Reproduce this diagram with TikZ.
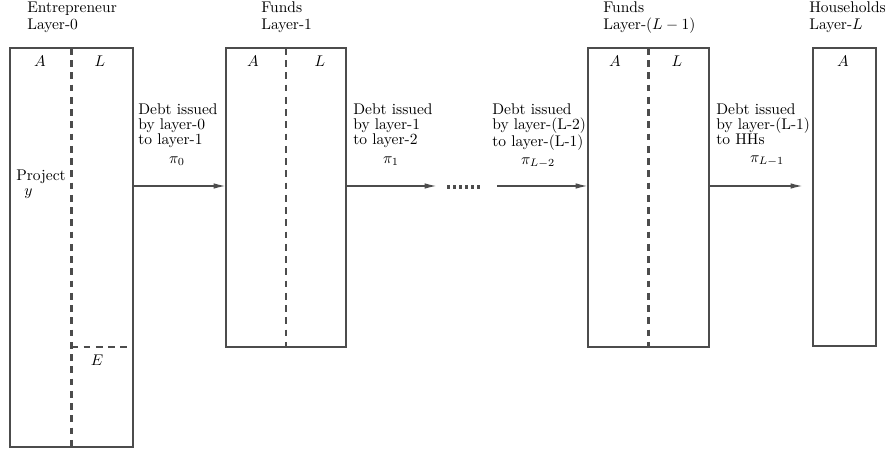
\documentclass[tikz,border=0pt]{standalone}
\usetikzlibrary{arrows.meta}
\definecolor{ln}{gray}{0.3}
\def\pxu{0.645pt}
\begin{document}
\begin{tikzpicture}[x=0.645pt,y=-0.645pt,
  box/.style={draw=ln, line width=1pt, anchor=north west, inner sep=0pt, outer sep=0pt},
  divider/.style={draw=ln, line width=1.4pt, dash pattern=on 4.3pt off 3.6pt},
  flow/.style={draw=ln, line width=1pt, -{Latex[length=8pt,width=3.6pt]}},
  lbl/.style={inner sep=0pt, align=left, anchor=north west, font=\fontsize{10}{9.7}\selectfont},
  txt/.style={inner sep=0pt, anchor=base west},
  sym/.style={inner sep=0pt},
  ]
\useasboundingbox (0,0) rectangle (888,452);
% balance sheets
\node[box, minimum width=123*\pxu, minimum height=399*\pxu] (b0) at (10,48) {};
\node[box, minimum width=120*\pxu, minimum height=299*\pxu] (b1) at (226,48) {};
\node[box, minimum width=121*\pxu, minimum height=299*\pxu] (b2) at (588,48) {};
\node[box, minimum width=63*\pxu, minimum height=298*\pxu] (b3) at (813,48) {};
% dividers
\draw[divider] (b0.north) -- (b0.south);
\draw[divider] (b1.north) -- (b1.south);
\draw[divider] (b2.north) -- (b2.south);
\draw[divider] (b0.north |- b1.south) -- (b0.east |- b1.south);
% arrows
\coordinate (r) at (0,186);
\coordinate (m1) at (437,186);
\coordinate (m2) at (497,186);
\draw[flow] (b0.east |- r) -- (b1.west |- r);
\draw[flow] (b1.east |- r) -- (m1);
\draw[flow] (m2) -- (b2.west |- r);
\draw[flow, shorten >=6.5pt] (b2.east |- r) -- (b3.west |- r);
\draw[ln, line width=2pt, dash pattern=on 2pt off 1.9pt] (447,187) -- (482,187);
% headers
\node[txt] (h0a) at (27,13) {Entrepreneur};
\node[txt] (h0b) at (27,30) {Layer-0};
\node[txt] (h1a) at (261,13) {Funds};
\node[txt] (h1b) at (261,30) {Layer-1};
\node[txt] (h2a) at (603,13) {Funds};
\node[txt] (h2b) at (603,30) {Layer-$(L-1)$};
\node[txt] (h3a) at (809,13) {Households};
\node[txt] (h3b) at (809,30) {Layer-$L$};
% column labels
\node[sym] (a0) at (40,61) {$A$};
\node[sym] (l0) at (100,61) {$L$};
\node[sym] (a1) at (253,61) {$A$};
\node[sym] (l1) at (320,61) {$L$};
\node[sym] (a2) at (615,61) {$A$};
\node[sym] (l2) at (677,61) {$L$};
\node[sym] (a3) at (843,61) {$A$};
\node[txt] (pj) at (16,181) {Project};
\node[txt] (py) at (24,196) {$y$};
\node[sym] (e0) at (97,360) {$E$};
% arrow labels
\node[lbl] (d0) at (138,103) {Debt issued\\by layer-0\\to layer-1};
\node[sym] (p0) at (177,161) {$\pi_0$};
\node[lbl] (d1) at (353,103) {Debt issued\\by layer-1\\to layer-2};
\node[sym] (p1) at (391,161) {$\pi_1$};
\node[lbl] (d2) at (492,103) {Debt issued\\by layer-(L-2)\\to layer-(L-1)};
\node[sym] (p2) at (538,163) {$\pi_{L-2}$};
\node[lbl] (d3) at (716,103) {Debt issued\\by layer-(L-1)\\to HHs};
\node[sym] (p3) at (767,161) {$\pi_{L-1}$};
\end{tikzpicture}
\end{document}
